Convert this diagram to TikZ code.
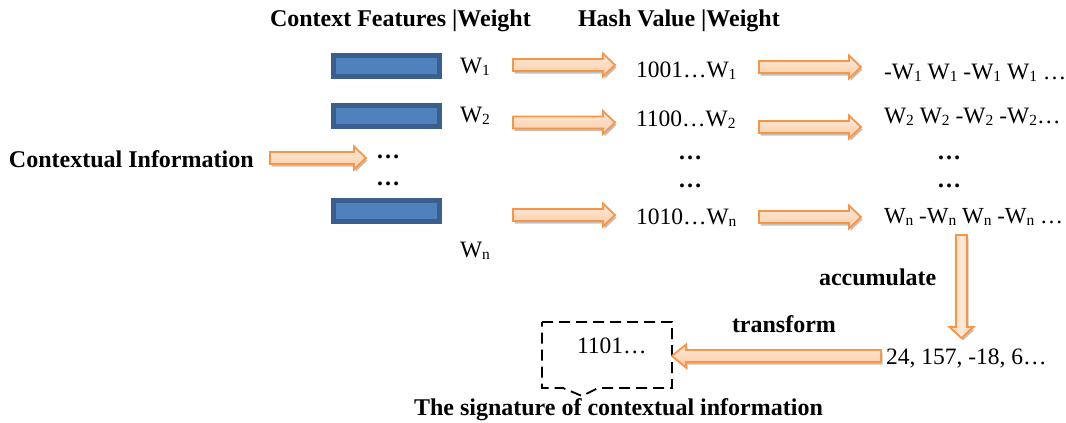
\documentclass[tikz,border=0pt]{standalone}
\usepackage{fontspec}
\setmainfont{Liberation Serif}
\usetikzlibrary{calc,shadows}
\definecolor{arrowline}{HTML}{F79646}
\definecolor{arrowtop}{HTML}{FDEBDD}
\definecolor{arrowbot}{HTML}{FBCBA3}
\definecolor{boxline}{HTML}{3A5F8E}
\definecolor{boxfill}{HTML}{4F81BD}
\newcommand\sbs[1]{\raisebox{-2.5pt}{\fontsize{15.5}{16}\selectfont #1}}
\tikzset{
  blockarrow/.style={draw=arrowline, line width=1.8pt, line join=miter,
    top color=arrowtop, bottom color=arrowbot,
    drop shadow={shadow xshift=1.5pt, shadow yshift=-2.5pt, opacity=0.4, fill=black!60}},
  vblockarrow/.style={draw=arrowline, line width=1.8pt, line join=miter,
    left color=arrowbot, right color=arrowbot, middle color=arrowtop,
    drop shadow={shadow xshift=1.5pt, shadow yshift=-2.5pt, opacity=0.4, fill=black!60}},
  featbox/.style={draw=boxline, fill=boxfill, line width=5pt, minimum width=106pt, minimum height=21pt, anchor=north west},
  txt/.style={font=\fontsize{23.5}{28}\selectfont, anchor=base west},
  bold/.style={font=\fontsize{24}{28}\selectfont\bfseries, anchor=base west},
  sigbox/.style={draw=black, line width=1.8pt, dash pattern=on 11pt off 6pt, line join=miter}
}
\newcommand\rightblock[2]{\path[blockarrow] let \p1=(#1), \p2=(#2) in
  (\x1,\y1+6pt) -- (\x2-12pt,\y1+6pt) -- (\x2-12pt,\y1+11.5pt) -- (\x2,\y1)
  -- (\x2-12pt,\y1-11.5pt) -- (\x2-12pt,\y1-6pt) -- (\x1,\y1-6pt) -- cycle;}
\newcommand\leftblock[2]{\path[blockarrow] let \p1=(#1), \p2=(#2) in
  (\x1,\y1+6pt) -- (\x2+14pt,\y1+6pt) -- (\x2+14pt,\y1+11.5pt) -- (\x2,\y1)
  -- (\x2+14pt,\y1-11.5pt) -- (\x2+14pt,\y1-6pt) -- (\x1,\y1-6pt) -- cycle;}
\newcommand\downblock[2]{\path[vblockarrow] let \p1=(#1), \p2=(#2) in
  (\x1-5.5pt,\y1) -- (\x1-5.5pt,\y2+11pt) -- (\x1-12pt,\y2+11pt) -- (\x1,\y2)
  -- (\x1+12pt,\y2+11pt) -- (\x1+5.5pt,\y2+11pt) -- (\x1+5.5pt,\y1) -- cycle;}
\begin{document}
\begin{tikzpicture}[x=1pt,y=-1pt,every node/.style={inner sep=0pt,outer sep=0pt}]
\useasboundingbox[fill=white] (0,0) rectangle (1066,423);

% headings
\node[bold] (headA) at (270,26) {Context Features |Weight};
\node[bold] (headB) at (578,26) {Hash Value |Weight};
\node[bold] (ctx) at (9,167) {Contextual Information};

% feature boxes
\node[featbox] (f1) at (333.5,55.5) {};
\node[featbox] (f2) at (333.5,105.5) {};
\node[featbox] (fn) at (333.5,200.5) {};

% weights
\node[txt] (w1) at (460,73) {W\sbs{1}};
\node[txt] (w2) at (460,122) {W\sbs{2}};
\node[txt] (wn) at (460,257) {W\sbs{n}};

% dots
\node[bold] (d1a) at (376,158) {…};
\node[bold] (d1b) at (376,185) {…};
\node[bold] (d2a) at (678,159) {…};
\node[bold] (d2b) at (678,187) {…};
\node[bold] (d3a) at (937,159) {…};
\node[bold] (d3b) at (937,187) {…};

% hash values
\node[txt] (h1) at (636,77) {1001…W\sbs{1}};
\node[txt] (h2) at (636,126) {1100…W\sbs{2}};
\node[txt] (hn) at (636,224) {1010…W\sbs{n}};

% weighted values
\node[txt] (v1) at (884,79) {-W\sbs{1} W\sbs{1} -W\sbs{1} W\sbs{1} …};
\node[txt] (v2) at (884,123) {W\sbs{2} W\sbs{2} -W\sbs{2} -W\sbs{2}…};
\node[txt, font=\fontsize{23}{28}\selectfont] (vn) at (884,223) {W\sbs{n} -W\sbs{n} W\sbs{n} -W\sbs{n} …};

% lower part
\node[bold] (acc) at (819,285) {accumulate};
\node[bold] (trf) at (732,332) {transform};
\node[txt] (sum) at (886,364) {24, 157, -18, 6…};
\node[txt] (sig) at (577,353) {1101…};
\node[bold] (siglab) at (414,415) {The signature of contextual information};

% signature callout
\coordinate (s1) at (542,322); \coordinate (s2) at (672,322);
\coordinate (s3) at (672,388); \coordinate (s4) at (598,388);
\coordinate (s5) at (582,396); \coordinate (s6) at (563,388);
\coordinate (s7) at (542,388);
\draw[sigbox] (s1) -- (s2) -- (s3) -- (s4) -- (s5) -- (s6) -- (s7) -- cycle;

% arrow end points
\coordinate (c0) at (270,158); \coordinate (c1) at (366,158);
\coordinate (a1s) at (513,65);  \coordinate (a1e) at (615,65);
\coordinate (b1s) at (759,67);  \coordinate (b1e) at (861,67);
\coordinate (a2s) at (513,122.5); \coordinate (a2e) at (615,122.5);
\coordinate (b2s) at (759,127); \coordinate (b2e) at (861,127);
\coordinate (ans) at (513,215); \coordinate (ane) at (615,215);
\coordinate (bns) at (759,217); \coordinate (bne) at (861,217);
\coordinate (ds) at (961.5,235); \coordinate (de) at (961.5,338);
\coordinate (ls) at (881,356); \coordinate (le) at (672,356);

\rightblock{c0}{c1}
\rightblock{a1s}{a1e}
\rightblock{b1s}{b1e}
\rightblock{a2s}{a2e}
\rightblock{b2s}{b2e}
\rightblock{ans}{ane}
\rightblock{bns}{bne}
\downblock{ds}{de}
\leftblock{ls}{le}
\end{tikzpicture}
\end{document}
